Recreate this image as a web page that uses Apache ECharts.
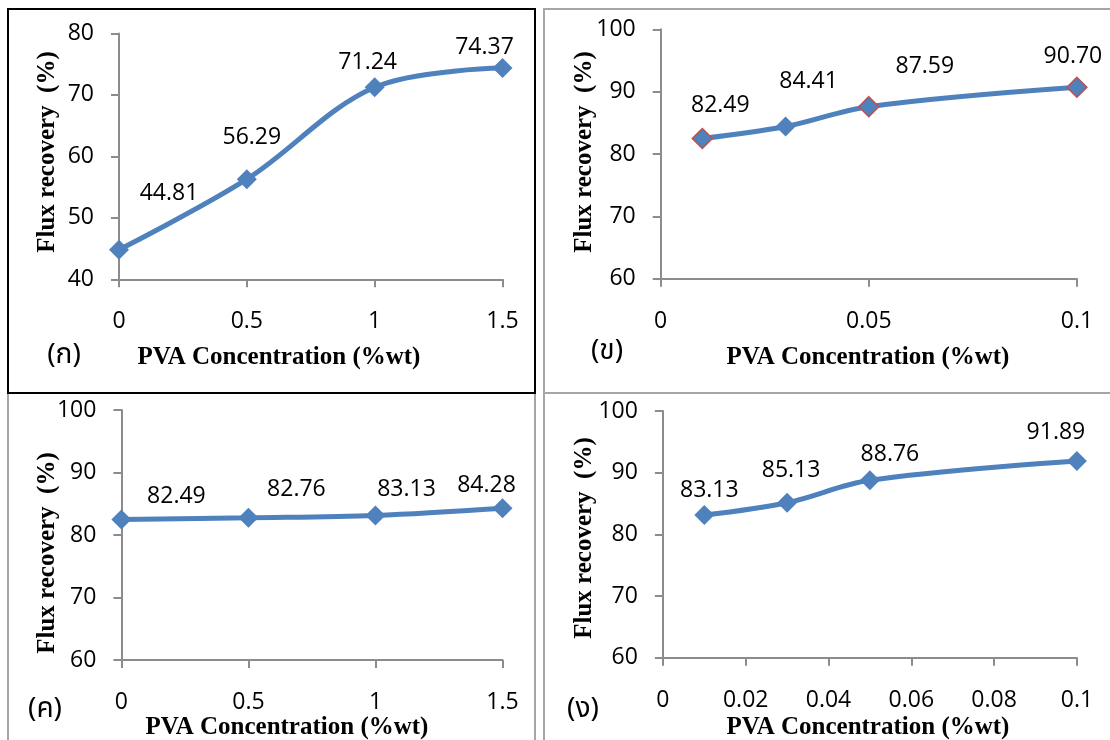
<!DOCTYPE html>
<html>
<head>
<meta charset="utf-8">
<title>Flux recovery vs PVA concentration</title>
<script src="https://cdn.jsdelivr.net/npm/echarts@6/dist/echarts.min.js"></script>
<style>
  html, body { margin: 0; padding: 0; background: #fff; }
  #chart { width: 1110px; height: 740px; }
</style>
</head>
<body>
<div id="chart"></div>
<script>
// PVA concentration (%wt) and flux recovery (%) for the four membrane sets
const concA = [0, 0.5, 1, 1.5];
const recoveryA = [44.81, 56.29, 71.24, 74.37];

const concB = [0.01, 0.03, 0.05, 0.1];
const recoveryB = [82.49, 84.41, 87.59, 90.70];

const concC = [0, 0.5, 1, 1.5];
const recoveryC = [82.49, 82.76, 83.13, 84.28];

const concD = [0.01, 0.03, 0.05, 0.1];
const recoveryD = [83.13, 85.13, 88.76, 91.89];

const panelTags = ['(ก)', '(ข)', '(ค)', '(ง)'];
const xTitle = 'PVA Concentration (%wt)';
const yTitle = 'Flux recovery  (%)';

const BLUE = '#4F81BD';
const RED = '#C0504D';
const AXIS = '#8c8c8c';
const NUM_FONT = "'Open Sans', 'Liberation Sans', sans-serif";
const TITLE_FONT = "'Liberation Serif', 'DejaVu Serif', serif";
const NUM_SIZE = 23;

// layout of each panel: plot box, axis ranges, label nudges, title anchors
const panels = [
  {
    x: concA, y: recoveryA,
    grid: { left: 119, top: 33.5, width: 383.5, height: 245.8 },
    xMax: 1.5, xStep: 0.5, yMin: 40, yMax: 80,
    labelOffsets: [[50, -56], [5, -42], [-7, -25], [-18, -21]],
    redEdge: [false, false, false, false],
    xTitlePos: [279, 358], yTitlePos: [48, 152], tagPos: [64, 357]
  },
  {
    x: concB, y: recoveryB,
    grid: { left: 660.7, top: 29.3, width: 416.2, height: 249.4 },
    xMax: 0.1, xStep: 0.05, yMin: 60, yMax: 100,
    labelOffsets: [[18, -33], [23, -45], [56, -40], [-4, -31]],
    redEdge: [true, false, true, true],
    xTitlePos: [868, 358], yTitlePos: [585, 152], tagPos: [607, 353]
  },
  {
    x: concC, y: recoveryC,
    grid: { left: 121.4, top: 410, width: 381.1, height: 250 },
    xMax: 1.5, xStep: 0.5, yMin: 60, yMax: 100,
    labelOffsets: [[55, -23], [48, -28], [31, -26], [-16, -23]],
    redEdge: [false, false, false, false],
    xTitlePos: [287, 728], yTitlePos: [48, 553], tagPos: [45, 711]
  },
  {
    x: concD, y: recoveryD,
    grid: { left: 662.9, top: 411, width: 414, height: 246.7 },
    xMax: 0.1, xStep: 0.02, yMin: 60, yMax: 100,
    labelOffsets: [[5, -25], [4, -32], [20, -26], [-21, -29]],
    redEdge: [false, false, false, false],
    xTitlePos: [868, 728], yTitlePos: [585, 538], tagPos: [583, 711]
  }
];

const grids = [], xAxes = [], yAxes = [], series = [], graphics = [];

// panel frames: grey boxes, the first one outlined in black on top
const frames = [
  { x: 544, y: 9, w: 600, h: 384, c: '#a6a6a6' },
  { x: 8, y: 393, w: 527, h: 400, c: '#a6a6a6' },
  { x: 544, y: 393, w: 600, h: 400, c: '#a6a6a6' },
  { x: 8, y: 9, w: 527, h: 384, c: '#000000' }
];
frames.forEach(f => graphics.push({
  type: 'rect', z: 0, silent: true,
  shape: { x: f.x, y: f.y, width: f.w, height: f.h },
  style: { fill: 'none', stroke: f.c, lineWidth: 2 }
}));

panels.forEach((p, i) => {
  grids.push(Object.assign({ containLabel: false }, p.grid));

  xAxes.push({
    type: 'value', gridIndex: i, min: 0, max: p.xMax, interval: p.xStep,
    axisLine: { show: true, onZero: false, lineStyle: { color: AXIS, width: 2 } },
    axisTick: { show: true, length: 8, lineStyle: { color: AXIS, width: 2 } },
    splitLine: { show: false },
    axisLabel: { color: '#000', fontSize: NUM_SIZE, fontFamily: NUM_FONT, margin: 31 }
  });

  yAxes.push({
    type: 'value', gridIndex: i, min: p.yMin, max: p.yMax, interval: 10,
    axisLine: { show: true, onZero: false, lineStyle: { color: AXIS, width: 2 } },
    axisTick: { show: true, length: 8, lineStyle: { color: AXIS, width: 2 } },
    splitLine: { show: false },
    axisLabel: { color: '#000', fontSize: NUM_SIZE, fontFamily: NUM_FONT, margin: 25 }
  });

  series.push({
    type: 'line', xAxisIndex: i, yAxisIndex: i,
    smooth: 0.35,
    symbol: 'diamond', symbolSize: 20,
    lineStyle: { color: BLUE, width: 5 },
    itemStyle: { color: BLUE },
    data: p.x.map((xv, k) => ({
      value: [xv, p.y[k]],
      itemStyle: p.redEdge[k]
        ? { color: BLUE, borderColor: RED, borderWidth: 1.5 }
        : { color: BLUE, borderWidth: 0 },
      label: {
        show: true, position: 'inside', offset: p.labelOffsets[k],
        formatter: (d) => d.value[1].toFixed(2),
        color: '#000', fontSize: NUM_SIZE, fontFamily: NUM_FONT
      }
    })),
    emphasis: { disabled: true },
    animation: false
  });

  // axis titles and panel tag
  graphics.push({
    type: 'text', z: 10, silent: true,
    x: p.xTitlePos[0], y: p.xTitlePos[1],
    style: {
      text: xTitle, fill: '#000', font: 'bold 25px ' + TITLE_FONT,
      align: 'center', verticalAlign: 'middle'
    }
  });
  graphics.push({
    type: 'text', z: 10, silent: true,
    x: p.yTitlePos[0], y: p.yTitlePos[1], rotation: Math.PI / 2,
    style: {
      text: yTitle, fill: '#000', font: 'bold 25px ' + TITLE_FONT,
      align: 'center', verticalAlign: 'middle'
    }
  });
  graphics.push({
    type: 'text', z: 10, silent: true,
    x: p.tagPos[0], y: p.tagPos[1],
    style: {
      text: panelTags[i], fill: '#000',
      font: "28px 'Noto Sans Thai', 'Noto Sans', 'DejaVu Sans', sans-serif",
      align: 'center', verticalAlign: 'middle'
    }
  });
});

const chart = echarts.init(document.getElementById('chart'), null, { renderer: 'canvas' });
chart.setOption({
  backgroundColor: '#ffffff',
  animation: false,
  grid: grids,
  xAxis: xAxes,
  yAxis: yAxes,
  series: series,
  graphic: graphics
});
</script>
</body>
</html>
